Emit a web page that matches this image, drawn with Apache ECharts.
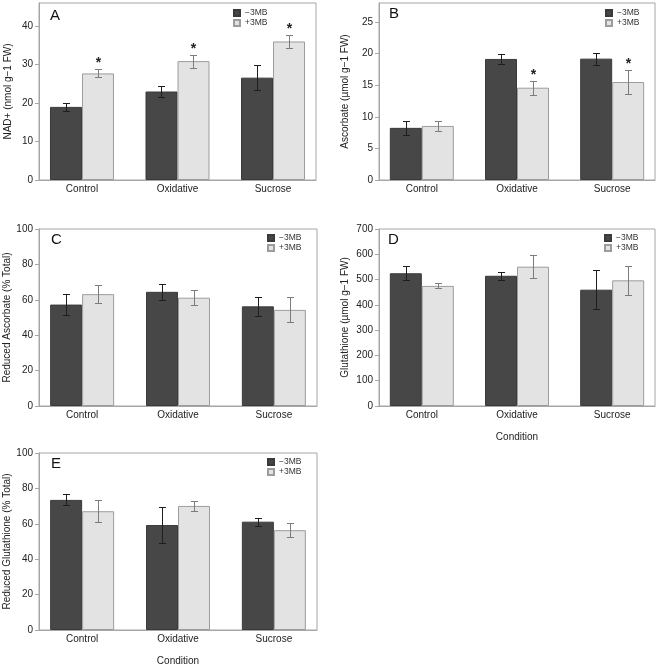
<!DOCTYPE html>
<html><head><meta charset="utf-8">
<script src="https://cdn.jsdelivr.net/npm/echarts@6/dist/echarts.min.js"></script>
<style>html,body{margin:0;padding:0;background:#fff}#c{width:661px;height:667px}</style>
</head><body><div id="c"></div>
<script>
// ---------- data ----------
const categories = ['Control', 'Oxidative', 'Sucrose'];
const seriesNames = ['\u22123MB', '+3MB'];

// Panel A: NAD+
const nadMinus = [19.0, 23.0, 26.6];
const nadMinusErr = [1.0, 1.3, 3.2];
const nadPlus = [27.7, 30.9, 36.0];
const nadPlusErr = [1.05, 1.7, 1.6];
const nadPlusSig = [true, true, true];
const nadTicks = [0, 10, 20, 30, 40];

// Panel B: Ascorbate
const ascMinus = [8.25, 19.15, 19.2];
const ascMinusErr = [1.1, 0.85, 0.95];
const ascPlus = [8.55, 14.6, 15.5];
const ascPlusErr = [0.8, 1.1, 1.85];
const ascPlusSig = [false, true, true];
const ascTicks = [0, 5, 10, 15, 20, 25];

// Panel C: Reduced Ascorbate
const redAscMinus = [57.3, 64.5, 56.3];
const redAscMinusErr = [6.0, 4.5, 5.3];
const redAscPlus = [63.2, 61.2, 54.3];
const redAscPlusErr = [5.0, 4.1, 7.0];
const redAscPlusSig = [false, false, false];
const pctTicks = [0, 20, 40, 60, 80, 100];

// Panel D: Glutathione
const gshMinus = [525, 515, 460];
const gshMinusErr = [28, 16, 76];
const gshPlus = [475, 551, 497];
const gshPlusErr = [10, 46, 58];
const gshPlusSig = [false, false, false];
const gshTicks = [0, 100, 200, 300, 400, 500, 600, 700];

// Panel E: Reduced Glutathione
const redGshMinus = [73.5, 59.3, 61.2];
const redGshMinusErr = [3.1, 10.3, 2.3];
const redGshPlus = [67.1, 70.1, 56.4];
const redGshPlusErr = [6.2, 2.8, 4.0];
const redGshPlusSig = [false, false, false];

const panelData = [
  {letter: 'A', yName: 'NAD+ (nmol g\u22121 FW)', yMax: 46, ticks: nadTicks, minus: nadMinus, minusErr: nadMinusErr, plus: nadPlus, plusErr: nadPlusErr, sig: nadPlusSig, xName: ''},
  {letter: 'B', yName: 'Ascorbate (\u00b5mol g\u22121 FW)', yMax: 28, ticks: ascTicks, minus: ascMinus, minusErr: ascMinusErr, plus: ascPlus, plusErr: ascPlusErr, sig: ascPlusSig, xName: ''},
  {letter: 'C', yName: 'Reduced Ascorbate (% Total)', yMax: 100, ticks: pctTicks, minus: redAscMinus, minusErr: redAscMinusErr, plus: redAscPlus, plusErr: redAscPlusErr, sig: redAscPlusSig, xName: ''},
  {letter: 'D', yName: 'Glutathione (\u00b5mol g\u22121 FW)', yMax: 700, ticks: gshTicks, minus: gshMinus, minusErr: gshMinusErr, plus: gshPlus, plusErr: gshPlusErr, sig: gshPlusSig, xName: 'Condition'},
  {letter: 'E', yName: 'Reduced Glutathione (% Total)', yMax: 100, ticks: pctTicks, minus: redGshMinus, minusErr: redGshMinusErr, plus: redGshPlus, plusErr: redGshPlusErr, sig: redGshPlusSig, xName: 'Condition'}
];

// ---------- layout & style ----------
const layout = [
  {grid: {left: 39, top: 3, width: 277, height: 177}, legend: {left: 233, top: 8}, letter: {left: 50, top: 8}, nameGap: 26},
  {grid: {left: 379, top: 3, width: 276, height: 177}, legend: {left: 605, top: 8}, letter: {left: 389, top: 6}, nameGap: 29},
  {grid: {left: 39, top: 229, width: 278, height: 177}, legend: {left: 267, top: 233}, letter: {left: 51, top: 232}, nameGap: 26},
  {grid: {left: 379, top: 229, width: 276, height: 177}, legend: {left: 604, top: 233}, letter: {left: 388, top: 232}, nameGap: 29},
  {grid: {left: 39, top: 453, width: 278, height: 177}, legend: {left: 267, top: 457}, letter: {left: 51, top: 456}, nameGap: 27}
];
const FONT = '"Liberation Sans", Arial, Helvetica, sans-serif';
const FRAME = '#a6a6a6';
const DARK = '#474747';
const LIGHT = '#e3e3e3';
const BAR_W = 32;
const CAP = 3.5;

const option = {
  animation: false,
  backgroundColor: '#fff',
  textStyle: {fontFamily: FONT},
  grid: [], xAxis: [], yAxis: [], series: [], legend: [], title: []
};

panelData.forEach((p, i) => {
  const L = layout[i];
  option.grid.push(Object.assign({show: true, borderColor: FRAME, borderWidth: 1, backgroundColor: 'transparent'}, L.grid));
  option.title.push({text: p.letter, left: L.letter.left, top: L.letter.top, padding: 0,
    textStyle: {fontSize: 15, fontWeight: 'normal', color: '#111', fontFamily: FONT}});
  option.legend.push({
    data: seriesNames, orient: 'vertical', left: L.legend.left, top: L.legend.top, padding: 0,
    itemWidth: 6, itemHeight: 6, itemGap: 0, icon: 'rect', selectedMode: false,
    textStyle: {fontSize: 8.5, color: '#333', lineHeight: 10, fontFamily: FONT}
  });
  option.xAxis.push({
    type: 'value', gridIndex: i, min: 0.55, max: 3.45,
    name: p.xName, nameLocation: 'middle', nameGap: 26,
    nameTextStyle: {fontSize: 10, color: '#222'},
    axisLine: {show: true, lineStyle: {color: FRAME}},
    axisTick: {show: false},
    splitLine: {show: false},
    axisLabel: {customValues: [1, 2, 3], formatter: v => categories[Math.round(v) - 1] || '',
      fontSize: 10, color: '#222', margin: 4}
  });
  option.yAxis.push({
    type: 'value', gridIndex: i, min: 0, max: p.yMax,
    name: p.yName, nameLocation: 'middle', nameGap: L.nameGap,
    nameTextStyle: {fontSize: 10, color: '#222'},
    axisLine: {show: true, lineStyle: {color: FRAME}},
    axisTick: {show: true, length: 4, lineStyle: {color: FRAME}, customValues: p.ticks},
    axisLabel: {customValues: p.ticks, fontSize: 10, color: '#222', margin: 6},
    splitLine: {show: false}
  });
  option.series.push({
    name: seriesNames[0], type: 'bar', xAxisIndex: i, yAxisIndex: i,
    barWidth: BAR_W, barGap: '0%',
    itemStyle: {color: DARK, borderColor: '#3a3a3a', borderWidth: 1},
    emphasis: {disabled: true},
    data: p.minus.map((v, j) => [j + 1, v])
  });
  option.series.push({
    name: seriesNames[1], type: 'bar', xAxisIndex: i, yAxisIndex: i,
    barWidth: BAR_W, barGap: '0%',
    itemStyle: {color: LIGHT, borderColor: '#9c9c9c', borderWidth: 1},
    emphasis: {disabled: true},
    data: p.plus.map((v, j) => [j + 1, v])
  });
  option.series.push({
    type: 'custom', xAxisIndex: i, yAxisIndex: i, z: 10, silent: true,
    data: p.minus.map((v, j) => [j + 1, v, p.minusErr[j], p.plus[j], p.plusErr[j], p.sig[j] ? 1 : 0]),
    encode: {x: 0, y: [1, 3]},
    renderItem: (params, api) => {
      const x = api.value(0);
      const children = [];
      const specs = [[1, 2, -1, '#1e1e1e', 0], [3, 4, 1, '#7c7c7c', api.value(5)]];
      specs.forEach(s => {
        const v = api.value(s[0]), e = api.value(s[1]);
        const t = api.coord([x, v + e]);
        const b = api.coord([x, v - e]);
        const cx = Math.round(t[0] + s[2] * BAR_W / 2) + 0.5;
        const ty = Math.round(t[1]) + 0.5, by = Math.round(b[1]) + 0.5;
        const st = {stroke: s[3], lineWidth: 1};
        children.push({type: 'line', shape: {x1: cx, y1: ty, x2: cx, y2: by}, style: st});
        children.push({type: 'line', shape: {x1: cx - CAP, y1: ty, x2: cx + CAP, y2: ty}, style: st});
        children.push({type: 'line', shape: {x1: cx - CAP, y1: by, x2: cx + CAP, y2: by}, style: st});
        if (s[4]) {
          children.push({type: 'text', style: {text: '*', x: cx, y: ty + 1, align: 'center', verticalAlign: 'bottom',
            font: 'bold 14px ' + FONT, fill: '#222'}});
        }
      });
      return {type: 'group', children: children};
    }
  });
});

const chart = echarts.init(document.getElementById('c'), null, {renderer: 'canvas'});
chart.setOption(option);
</script>
</body></html>
